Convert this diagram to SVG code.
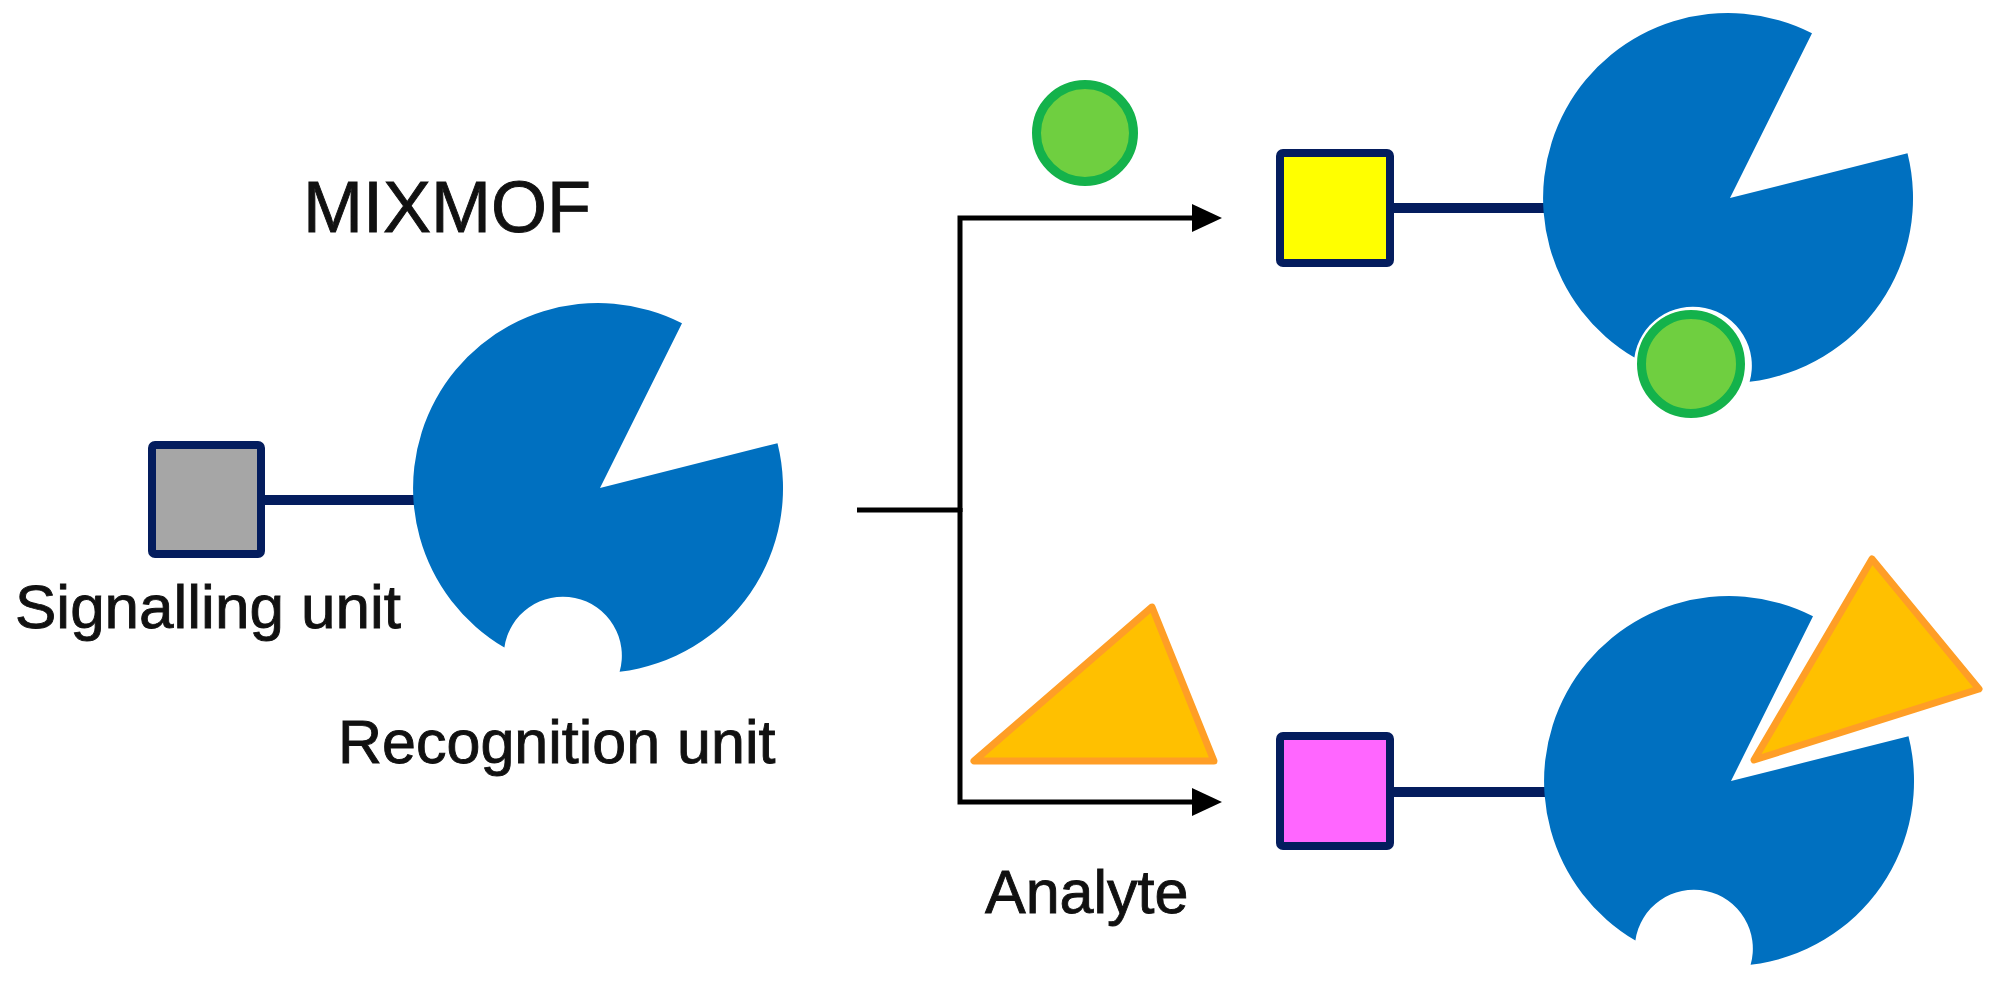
<svg xmlns="http://www.w3.org/2000/svg" width="1998" height="993" viewBox="0 0 1998 993">
  <style>
    .lbl { font-family: "Liberation Sans", Arial, sans-serif; fill: #111; stroke: #111; stroke-width: 0.9; }
    .unit { stroke: #041d5e; stroke-width: 8; stroke-linejoin: round; }
    .link { stroke: #041d5e; stroke-width: 10; fill: none; }
    .pac { fill: #0070c0; }
    .arrow { stroke: #000; stroke-width: 5; fill: none; stroke-linejoin: miter; }
    .green { fill: #6fcf40; stroke: #14b24b; stroke-width: 9; }
    .tri { fill: #ffc000; stroke: #ff9e26; stroke-width: 7; stroke-linejoin: round; }
  </style>
  <defs>
    <path id="pacman" d="M 2 0 L 84 -164.8 A 185 185 0 0 0 -93.6 159.6 A 59 59 0 1 1 21.6 183.8 A 185 185 0 0 0 179.5 -44.8 Z"/>
    <marker id="head" markerUnits="userSpaceOnUse" markerWidth="30" markerHeight="30" viewBox="0 0 30 30" refX="3" refY="15" orient="auto">
      <path d="M0,1 L30,15 L0,29 Z" fill="#000"/>
    </marker>
  </defs>
  <rect width="1998" height="993" fill="#fff"/>

  <g id="connectors">
    <path class="arrow" d="M 857 510 H 960"/>
    <path class="arrow" d="M 960 512 V 218 H 1195" marker-end="url(#head)"/>
    <path class="arrow" d="M 960 508 V 802 H 1195" marker-end="url(#head)"/>
    <line class="link" x1="265" y1="500" x2="420" y2="500"/>
    <line class="link" x1="1394" y1="208" x2="1550" y2="208"/>
    <line class="link" x1="1394" y1="792" x2="1551" y2="792"/>
  </g>

  <g id="mixmof-label">
    <text class="lbl" x="303" y="232" font-size="72">MIXMOF</text>
  </g>

  <g id="signalling-unit">
    <rect class="unit" x="152" y="445" width="109" height="109" rx="3" fill="#a6a6a6"/>
    <text class="lbl" x="15" y="628" font-size="62">Signalling unit</text>
  </g>

  <g id="recognition-unit">
    <use href="#pacman" class="pac" transform="translate(598,488)"/>
    <text class="lbl" x="338" y="763" font-size="61">Recognition unit</text>
  </g>

  <g id="analyte-circle">
    <circle class="green" cx="1085" cy="133" r="48.5"/>
  </g>

  <g id="analyte-triangle">
    <polygon class="tri" points="1152,607 974,761 1214,761"/>
    <text class="lbl" x="985" y="913" font-size="61">Analyte</text>
  </g>

  <g id="result-top">
    <rect class="unit" x="1280" y="153" width="110" height="110" rx="3" fill="#ffff00"/>
    <use href="#pacman" class="pac" transform="translate(1728,198)"/>
    <circle class="green" cx="1691" cy="364" r="49.5"/>
  </g>

  <g id="result-bottom">
    <rect class="unit" x="1280" y="736" width="110" height="110" rx="3" fill="#ff66ff"/>
    <use href="#pacman" class="pac" transform="translate(1729,781)"/>
    <polygon points="1872,559 1979,689 1754,760" fill="#fff" stroke="#fff" stroke-width="16" stroke-linejoin="round"/>
    <polygon class="tri" points="1872,559 1979,689 1754,760"/>
  </g>
</svg>
